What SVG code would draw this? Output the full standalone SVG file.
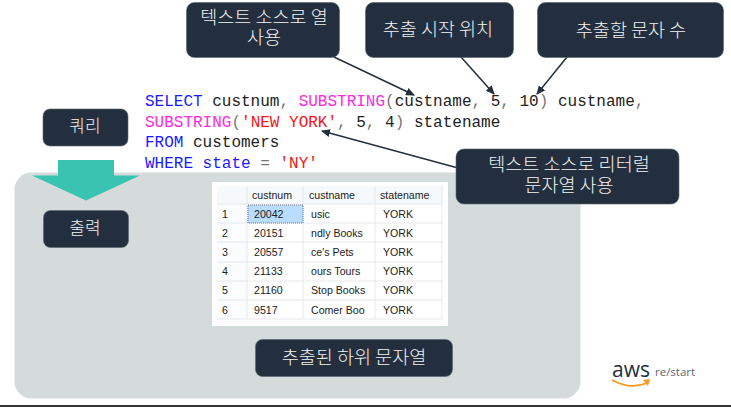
<svg xmlns="http://www.w3.org/2000/svg" width="731" height="412" viewBox="0 0 731 412">
<style>
.box{fill:#232f3e;stroke:#5a6470;stroke-width:.6}
.lb{font-family:"Noto Sans CJK KR","Noto Sans",sans-serif;font-size:18.5px;font-weight:300;fill:#f2f2f2;text-anchor:middle}
.sm{font-size:17px}
.code{font-family:"Liberation Mono",monospace;font-size:16px;fill:#222}
.k{fill:#1a1aff}.f{fill:#ff2bdc}.s{fill:#f01818}.g{fill:#777}
.cell{font-family:"Liberation Sans",sans-serif;font-size:10.6px;fill:#222}
.conn{stroke:#232f3e;stroke-width:1.5;fill:none;marker-end:url(#ah)}
.grid{stroke:#e4e8ec;stroke-width:1;fill:none}
</style>
<defs><marker id="ah" markerUnits="userSpaceOnUse" markerWidth="9" markerHeight="8" refX="8" refY="4" orient="auto"><path d="M0 0L9 4L0 8z" fill="#232f3e"/></marker></defs>
<rect width="731" height="412" fill="#fff"/>
<rect id="panel" x="14.500" y="172.500" width="566" height="226" rx="17" fill="#d5dadb"/>
<polygon id="down-arrow" points="58,160 114,160 114,175.500 140,175.500 86,200.500 32,175.500 58,175.500" fill="#38c4b0"/>
<g id="code">
<text class="code" x="145" y="106"><tspan class="k">SELECT</tspan> custnum<tspan class="g">,</tspan> <tspan class="f">SUBSTRING</tspan><tspan class="g">(</tspan>custname<tspan class="g">,</tspan> 5<tspan class="g">,</tspan> 10<tspan class="g">)</tspan> custname<tspan class="g">,</tspan></text>
<text class="code" x="145" y="127"><tspan class="f">SUBSTRING</tspan><tspan class="g">(</tspan><tspan class="s">'NEW YORK'</tspan><tspan class="g">,</tspan> 5<tspan class="g">,</tspan> 4<tspan class="g">)</tspan> statename</text>
<text class="code" x="145" y="147"><tspan class="k">FROM</tspan> customers</text>
<text class="code" x="145" y="168"><tspan class="k">WHERE state</tspan> <tspan class="g">=</tspan> <tspan class="s">'NY'</tspan></text>
</g>
<g id="connectors">
<line class="conn" x1="334" y1="57" x2="414" y2="95"/>
<line class="conn" x1="461" y1="57" x2="494" y2="94"/>
<line class="conn" x1="567" y1="57" x2="537" y2="94"/>
<line class="conn" x1="458" y1="168" x2="322" y2="131"/>
</g>
<g id="n-column"><rect class="box" x="186.500" y="2.500" width="153" height="55" rx="8"/><text class="lb"><tspan x="264" y="24">텍스트 소스로 열</tspan><tspan x="264" y="44">사용</tspan></text></g>
<g id="n-start"><rect class="box" x="365.500" y="2.500" width="148" height="55" rx="8"/><text class="lb" x="438" y="36">추출 시작 위치</text></g>
<g id="n-count"><rect class="box" x="537.500" y="2.500" width="186" height="55" rx="8"/><text class="lb" x="631" y="37">추출할 문자 수</text></g>
<g id="n-literal"><rect class="box" x="456" y="149" width="223" height="55" rx="8"/><text class="lb"><tspan x="569" y="171">텍스트 소스로 리터럴</tspan><tspan x="569" y="192">문자열 사용</tspan></text></g>
<g id="n-query"><rect class="box" x="43" y="109" width="85" height="37" rx="7"/><text class="lb sm" x="85" y="132">쿼리</text></g>
<g id="n-output"><rect class="box" x="43.500" y="210.500" width="85" height="37" rx="7"/><text class="lb sm" x="85" y="234">출력</text></g>
<g id="n-result"><rect class="box" x="255.500" y="339.500" width="197" height="37" rx="7"/><text class="lb" x="354" y="364">추출된 하위 문자열</text></g>
<g id="result-table">
<rect x="212" y="182" width="236" height="144" fill="#fff"/>
<rect x="217" y="186" width="226" height="18" fill="#f6f9fc"/>
<rect x="217" y="204" width="30" height="115" fill="#fbfcfd"/>
<path class="grid" d="M217 204H442M217 223H442M217 242H442M217 262H442M217 281H442M217 300H442M217 319H442M247 186V319M303 186V319M375 186V319M442 186V319"/>
<rect x="248" y="205" width="55" height="18" fill="#b9dcff" stroke="#445" stroke-width=".7" stroke-dasharray="1 1"/>
<text class="cell"><tspan x="252" y="199">custnum</tspan><tspan x="309" y="199">custname</tspan><tspan x="380" y="199">statename</tspan>
<tspan x="222" y="218">1</tspan><tspan x="254" y="218">20042</tspan><tspan x="311" y="218">usic</tspan><tspan x="383" y="218">YORK</tspan>
<tspan x="222" y="237">2</tspan><tspan x="254" y="237">20151</tspan><tspan x="311" y="237">ndly Books</tspan><tspan x="383" y="237">YORK</tspan>
<tspan x="222" y="256">3</tspan><tspan x="254" y="256">20557</tspan><tspan x="311" y="256">ce's Pets</tspan><tspan x="383" y="256">YORK</tspan>
<tspan x="222" y="275">4</tspan><tspan x="254" y="275">21133</tspan><tspan x="311" y="275">ours Tours</tspan><tspan x="383" y="275">YORK</tspan>
<tspan x="222" y="294">5</tspan><tspan x="254" y="294">21160</tspan><tspan x="311" y="294">Stop Books</tspan><tspan x="383" y="294">YORK</tspan>
<tspan x="222" y="314">6</tspan><tspan x="254" y="314">9517</tspan><tspan x="311" y="314">Comer Boo</tspan><tspan x="383" y="314">YORK</tspan></text>
</g>
<g id="logo">
<text x="612" y="377" font-family="Open Sans,Liberation Sans,sans-serif" font-size="22" fill="#232f3e" textLength="38" lengthAdjust="spacingAndGlyphs">aws</text>
<text x="655" y="376" font-family="Open Sans,Liberation Sans,sans-serif" font-size="11.500" fill="#5f6670">re/start</text>
<path d="M612 380Q630 390 647 383" fill="none" stroke="#f7981d" stroke-width="1.800"/>
<path d="M643 380L650 379L648 386z" fill="#f7981d"/>
</g>
<rect x="0" y="405" width="731" height="2" fill="#333"/>
</svg>
